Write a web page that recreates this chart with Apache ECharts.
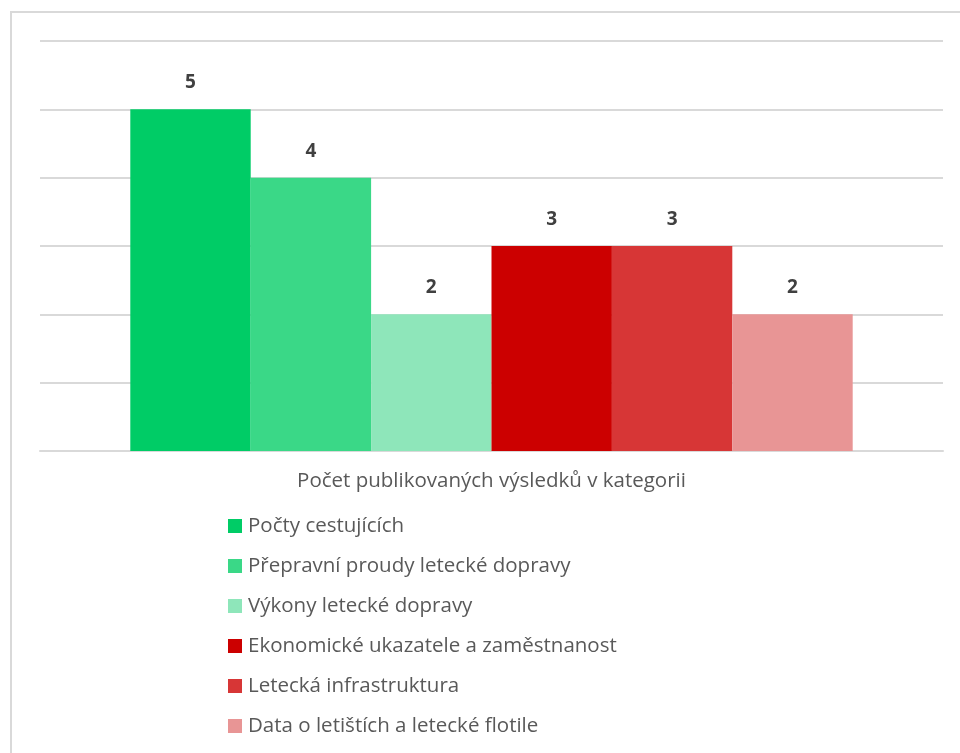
<!DOCTYPE html>
<html>
<head>
<meta charset="utf-8">
<script src="https://cdn.jsdelivr.net/npm/echarts@6/dist/echarts.min.js"></script>
<style>
  html, body { margin: 0; padding: 0; background: #fff; }
  #chart { width: 960px; height: 753px; }
</style>
</head>
<body>
<div id="chart"></div>
<script>
// data
const categories = ['Počet publikovaných výsledků v kategorii']
const seriesNames = [
  'Počty cestujících',
  'Přepravní proudy letecké dopravy',
  'Výkony letecké dopravy',
  'Ekonomické ukazatele a zaměstnanost',
  'Letecká infrastruktura',
  'Data o letištích a letecké flotile'
]
const seriesValues = [5, 4, 2, 3, 3, 2]
const seriesColors = ['#00CC66', '#3AD887', '#8EE6BA', '#CC0000', '#D73636', '#E89595']

const font = '"Open Sans", "Noto Sans", sans-serif'
const chart = echarts.init(document.getElementById('chart'))

const series = seriesNames.map((name, i) => ({
  name: name,
  type: 'bar',
  data: [seriesValues[i]],
  barGap: '0%',
  barCategoryGap: '20%',
  itemStyle: { color: seriesColors[i] },
  label: {
    show: true,
    position: 'top',
    distance: 17,
    color: '#404040',
    fontWeight: 'bold',
    fontSize: 19,
    fontFamily: font
  }
}))

const option = {
  animation: false,
  graphic: [
    {
      type: 'rect',
      shape: { x: 11, y: 12, width: 960, height: 760 },
      style: { fill: 'none', stroke: '#d9d9d9', lineWidth: 2 },
      silent: true
    }
  ],
  grid: { left: 40, right: 17, top: 41, bottom: 302 },
  xAxis: {
    type: 'category',
    data: categories,
    axisTick: { show: false },
    axisLine: { lineStyle: { color: '#d9d9d9', width: 2 } },
    axisLabel: {
      color: '#595959',
      fontSize: 20.5,
      fontFamily: font,
      margin: 20
    }
  },
  yAxis: {
    type: 'value',
    min: 0,
    max: 6,
    interval: 1,
    axisLabel: { show: false },
    axisLine: { show: false },
    axisTick: { show: false },
    splitLine: { lineStyle: { color: '#d9d9d9', width: 2 } }
  },
  legend: {
    orient: 'vertical',
    left: 223,
    top: 510,
    icon: 'rect',
    itemWidth: 14,
    itemHeight: 14,
    itemGap: 18,
    itemStyle: { borderWidth: 0 },
    data: seriesNames,
    textStyle: {
      color: '#595959',
      fontSize: 20.5,
      fontFamily: font,
      lineHeight: 22,
      padding: [0, 0, 0, 1]
    }
  },
  series: series
}
chart.setOption(option)
</script>
</body>
</html>
